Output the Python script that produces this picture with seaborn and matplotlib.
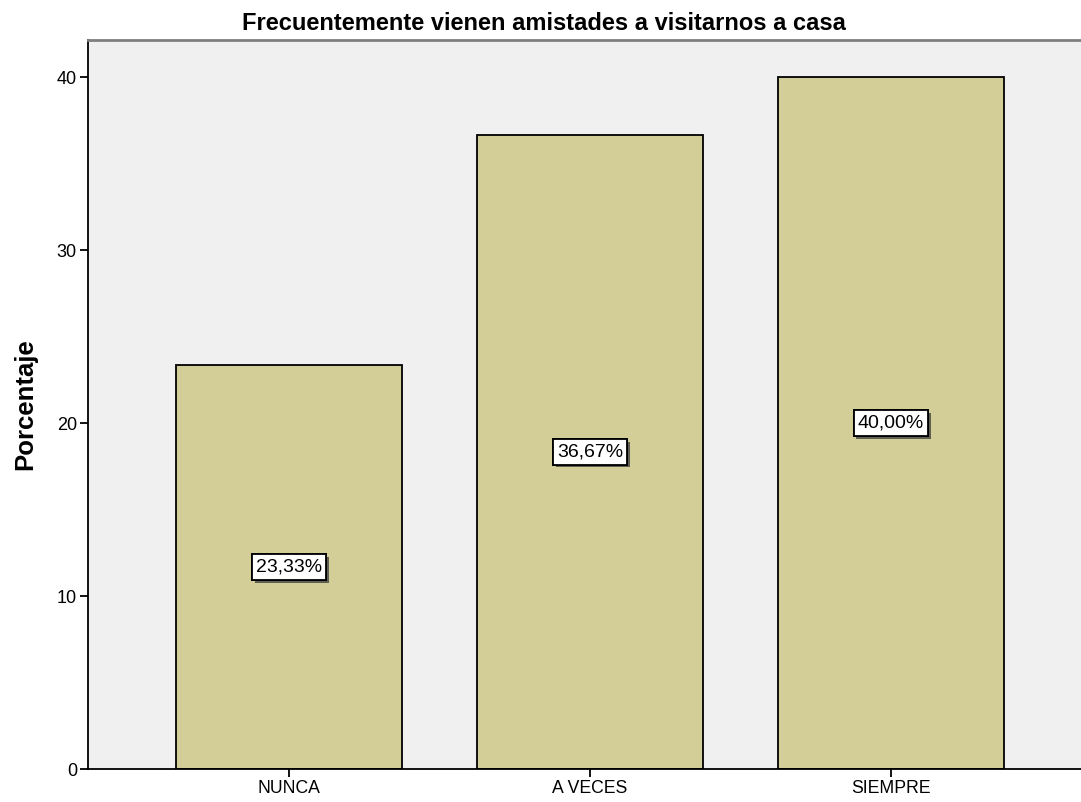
import matplotlib
matplotlib.use('Agg')
import matplotlib.pyplot as plt
import matplotlib.patheffects as pe
import pandas as pd
import seaborn as sns

categorias = ['NUNCA', 'A VECES', 'SIEMPRE']
porcentajes = [23.33, 36.67, 40.00]
etiquetas = ['23,33%', '36,67%', '40,00%']
yticks = [0, 10, 20, 30, 40]

df = pd.DataFrame({'Respuesta': categorias, 'Porcentaje': porcentajes})

sns.set_style('white')
plt.rcParams['font.family'] = ['Liberation Sans', 'DejaVu Sans']
plt.rcParams['text.color'] = 'black'
plt.rcParams['axes.labelcolor'] = 'black'
plt.rcParams['xtick.color'] = 'black'
plt.rcParams['ytick.color'] = 'black'

fig = plt.figure(figsize=(10.81, 8.02), dpi=100)
ax = fig.add_axes([88/1081, 1-769/802, 1-88/1081, (769-40)/802])
ax.set_facecolor('#f0f0f0')

sns.barplot(data=df, x='Respuesta', y='Porcentaje', color='#d3ce97', width=0.75,
            edgecolor='black', linewidth=1.3, saturation=1, ax=ax)

# value labels in white boxes with a small shadow
for i, (v, lab) in enumerate(zip(porcentajes, etiquetas)):
    t = ax.text(i, v/2, lab, ha='center', va='center', fontsize=14,
                bbox=dict(boxstyle='square,pad=0.22', fc='white', ec='black', lw=1.3))
    t.get_bbox_patch().set_path_effects([pe.withSimplePatchShadow(offset=(2, -2), shadow_rgbFace='#444444', alpha=0.8), pe.Normal()])

ax.set_xlim(-0.668, 2.631)
ax.set_ylim(0, 42.14)
ax.set_yticks(yticks)
ax.set_xlabel('')
ax.set_ylabel('Porcentaje', fontsize=18.5, fontweight='bold', labelpad=14)
ax.set_title('Frecuentemente vienen amistades a visitarnos a casa', fontsize=17,
             fontweight='bold', pad=7, x=(544-88)/993)

ax.tick_params(axis='both', which='both', length=6, width=1.3,
               labelsize=13, direction='out', pad=2)
ax.tick_params(axis='x', bottom=True, labelsize=12.7)
ax.tick_params(axis='y', left=True)

ax.spines['right'].set_visible(False)
ax.spines['top'].set_color('#7f7f7f')
ax.spines['top'].set_linewidth(2)
for s in ['left', 'bottom']:
    ax.spines[s].set_color('black')
    ax.spines[s].set_linewidth(1.3)

fig.savefig('out.png', dpi=100)
